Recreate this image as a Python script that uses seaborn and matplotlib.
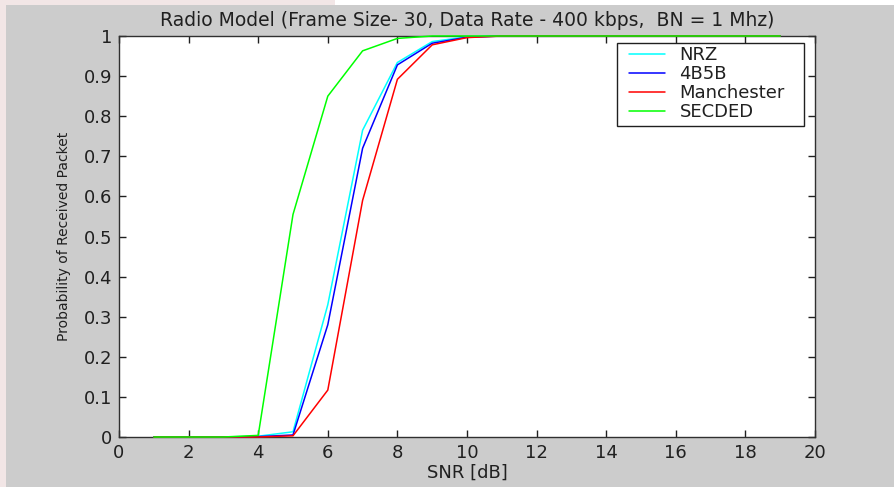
import matplotlib
matplotlib.use("Agg")
import matplotlib.pyplot as plt
import seaborn as sns
import pandas as pd
from matplotlib.patches import Rectangle
from matplotlib.transforms import IdentityTransform

snr = list(range(1, 20))
nrz = [0, 0, 0, 0.002, 0.013, 0.33, 0.765, 0.934, 0.986, 0.998, 1, 1, 1, 1, 1, 1, 1, 1, 1]
b4b5 = [0, 0, 0, 0.001, 0.005, 0.28, 0.72, 0.928, 0.982, 0.997, 1, 1, 1, 1, 1, 1, 1, 1, 1]
manchester = [0, 0, 0, 0, 0.003, 0.117, 0.59, 0.892, 0.978, 0.996, 1, 1, 1, 1, 1, 1, 1, 1, 1]
secded = [0, 0, 0, 0.004, 0.555, 0.85, 0.963, 0.994, 1, 1, 1, 1, 1, 1, 1, 1, 1, 1, 1]

series_names = ["NRZ", "4B5B", "Manchester", "SECDED"]
series_vals = [nrz, b4b5, manchester, secded]
colors = ["#00ffff", "#0000ff", "#ff0000", "#00ff00"]

xticks = list(range(0, 21, 2))
yticks = [0, 0.1, 0.2, 0.3, 0.4, 0.5, 0.6, 0.7, 0.8, 0.9, 1]
ytick_labels = ["0", "0.1", "0.2", "0.3", "0.4", "0.5", "0.6", "0.7", "0.8", "0.9", "1"]

rows = []
for name, vals in zip(series_names, series_vals):
    for x, y in zip(snr, vals):
        rows.append({"SNR": x, "P": y, "Scheme": name})
df = pd.DataFrame(rows)

sns.set_theme(style="white")
plt.rcParams["font.family"] = ["DejaVu Sans"]

W, H = 895, 487
fig = plt.figure(figsize=(W / 100, H / 100), dpi=100)
fig.patch.set_facecolor("#f2e6e6")
fig.patches.append(Rectangle((6 / W, 0), 1 - 6 / W, 1 - 5 / H,
                             transform=fig.transFigure, facecolor="#cccccc",
                             edgecolor="none", zorder=-10))
fig.patches.append(Rectangle((335 / W, 1 - 5 / H), 1 - 335 / W, 5 / H,
                             transform=fig.transFigure, facecolor="#ffffff",
                             edgecolor="none", zorder=-10))

ax = fig.add_axes([119 / W, 1 - 437 / H, (815 - 119) / W, (437 - 36) / H])
ax.set_zorder(5)
ax.set_facecolor("white")

sns.lineplot(data=df, x="SNR", y="P", hue="Scheme", hue_order=series_names,
             palette=colors, linewidth=1.1, ax=ax, legend=True)
for ln in ax.get_lines():
    ln.set_clip_on(False)
    ln.set_zorder(4)

ax.set_xlim(0, 20)
ax.set_ylim(0, 1)
ax.set_xticks(xticks)
ax.set_xticklabels([str(t) for t in xticks])
ax.set_yticks(yticks)
ax.set_yticklabels(ytick_labels)
ax.tick_params(direction="in", length=5, width=1, color="#202020",
               labelsize=13, top=True, right=True, bottom=True, left=True,
               labelcolor="#202020", pad=5)
for s in ax.spines.values():
    s.set_color("#303030")
    s.set_linewidth(1.0)
    s.set_zorder(3)

ax.set_xlabel("SNR [dB]", fontsize=13, color="#202020", labelpad=1)
ax.set_ylabel("Probability of Received Packet", fontsize=10, color="#202020", labelpad=9)
ax.set_title("Radio Model (Frame Size- 30, Data Rate - 400 kbps,  BN = 1 Mhz)",
             fontsize=13.5, color="#202020", pad=7)

# legend without its own frame; a wider frame is drawn around it below
leg = ax.legend(loc="upper left", bbox_to_anchor=(629, H - 46),
                bbox_transform=IdentityTransform(), fontsize=13,
                frameon=False, handlelength=2.0, handletextpad=0.8,
                labelspacing=0.06, borderpad=0, borderaxespad=0)
leg.set_zorder(7)
for t in leg.get_texts():
    t.set_color("#202020")

fig.canvas.draw()
bb = leg.get_window_extent(fig.canvas.get_renderer())
frame = Rectangle((bb.x0 - 12, bb.y0 - 5), bb.width + 12 + 19, bb.height + 8,
                  transform=IdentityTransform(), facecolor="white",
                  edgecolor="#202020", linewidth=1.0, clip_on=False, zorder=6)
ax.add_artist(frame)

fig.savefig("out.png", dpi=100, facecolor=fig.get_facecolor())
